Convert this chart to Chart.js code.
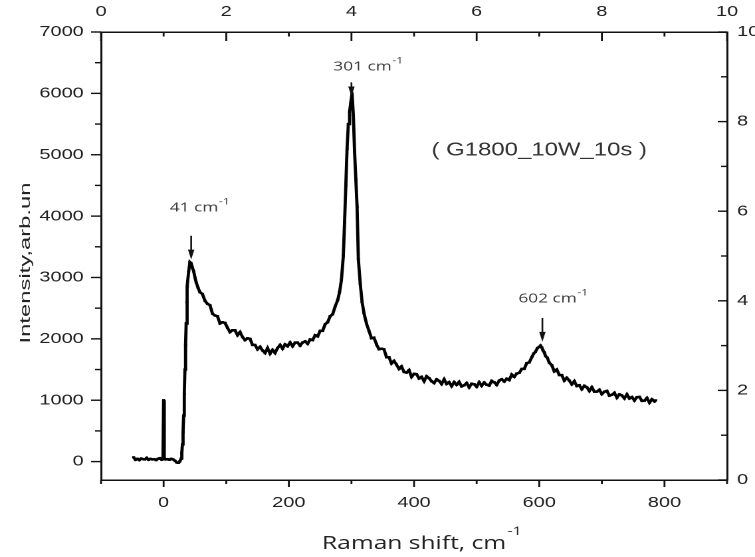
<!DOCTYPE html>
<html><head><meta charset="utf-8">
<script src="https://cdn.jsdelivr.net/npm/chart.js@4.4.1/dist/chart.umd.min.js"></script>
<style>
html,body{margin:0;padding:0;background:#fff;overflow:hidden;}
#wrap{width:755px;height:557px;overflow:hidden;position:relative;}
#c{display:block;transform-origin:0 0;transform:scaleX(1.3292);}
</style></head><body>
<div id="wrap"><canvas id="c" width="568" height="557"></canvas></div>
<script>
// Raman shift (cm-1) and intensity (arb. units)
const ramanShift = [
-48,-45,-42,-39,-36,-33,-30,-27,-24,-21,-18,-15,-12,-9,-6,-3,-1,0,1,3,6,9,12,15,18,21,24,26,28,
29,30,31,32,33,34,35,36,37,38,40,42,44,46,48,50,52,55,58,
62,66,70,74,78,82,86,90,94,98,102,106,110,114,118,122,126,130,134,138,142,146,150,154,158,162,166,170,174,178,182,186,190,194,198,202,206,210,214,218,222,226,230,234,238,242,246,250,254,258,262,266,270,274,278,281,284,
287,289,291,293,295,297,299,301,303,305,307,309,311,314,317,320,324,
328,332,336,340,344,348,352,356,360,364,368,372,376,380,384,388,392,396,400,404,408,412,416,420,424,428,432,436,440,444,448,452,456,460,464,468,472,476,480,484,488,492,496,500,504,508,512,516,520,524,528,532,536,540,544,548,552,556,560,564,568,572,576,580,584,588,591,594,597,600,602,604,606,608,610,613,616,
620,624,628,632,636,640,644,648,652,656,660,664,668,672,676,680,684,688,692,696,700,704,708,712,716,720,724,728,732,736,740,744,748,752,756,760,764,768,772,776,780,784,786
];
const intensity = [
70,30,45,25,50,40,35,60,30,45,35,40,25,45,55,30,40,1000,45,35,40,30,45,35,15,-15,-20,5,50,
140,280,480,750,1100,1500,1900,2250,2600,2850,3100,3250,3230,3160,3100,3000,2920,2830,2760,
2730,2620,2570,2550,2410,2380,2370,2250,2270,2260,2180,2110,2140,2140,2060,2110,2030,1980,2010,2000,1900,1900,1830,1870,1810,1770,1850,1760,1820,1770,1850,1900,1840,1910,1880,1940,1880,1940,1940,1890,1940,1960,1920,1990,1980,2060,2040,2130,2130,2240,2270,2370,2400,2530,2630,2760,2960,
3350,3900,4500,5100,5500,5700,5850,6000,5650,5050,4600,4150,3300,2900,2600,2420,2250,
2130,2010,2020,1910,1830,1840,1830,1700,1700,1600,1640,1580,1510,1550,1460,1450,1490,1380,1430,1425,1355,1380,1310,1390,1360,1310,1280,1340,1315,1265,1340,1265,1295,1230,1295,1250,1298,1225,1242,1280,1210,1270,1260,1220,1292,1235,1288,1252,1238,1315,1292,1250,1320,1342,1305,1350,1328,1418,1380,1435,1445,1510,1510,1605,1615,1700,1760,1790,1850,1870,1890,1860,1810,1780,1720,1690,1610,
1570,1470,1500,1410,1410,1320,1365,1320,1260,1310,1230,1245,1180,1235,1210,1150,1210,1140,1140,1170,1100,1140,1152,1075,1088,1120,1042,1095,1078,1030,1095,1028,1052,996,1050,1054,988,992,1036,960,1015,980,998
];

// axis ticks
const bottomTicks = [0, 200, 400, 600, 800];
const bottomMinor = [-100, 100, 300, 500, 700, 900];
const leftTicks = [0, 1000, 2000, 3000, 4000, 5000, 6000, 7000];
const leftMinor = [500, 1500, 2500, 3500, 4500, 5500, 6500];
const topTicks = [0, 2, 4, 6, 8, 10];
const topMinor = [1, 3, 5, 7, 9];
const rightTicks = [0, 2, 4, 6, 8, 10];
const rightMinor = [1, 3, 5, 7, 9];

// peak annotations
const peakNames = ['41 cm', '301 cm', '602 cm'];
const peakArrowX = [44, 300, 605];
const peakArrowFrom = [3680, 6180, 2340];
const peakArrowTo = [3290, 5950, 1950];
const peakTextX = [48.6, 317.7, 613.2];
const peakTextY = [4132, 6429, 2649];
const sampleName = '( G1800_10W_10s )';
const sampleX = 600, sampleY = 5070;

const xTitle = 'Raman shift, cm';
const yTitle = 'Intensity,arb.un';
const sup = '-1';

const S = 755 / 568;
const tickFont = { family: "'Liberation Sans', Arial, sans-serif", size: 15 };
const tickColor = '#222';

const decor = {
  id: 'decor',
  afterDraw(chart) {
    const ctx = chart.ctx;
    const sx = chart.scales.x, sy = chart.scales.y, sx2 = chart.scales.x2, sy2 = chart.scales.y2;
    const a = chart.chartArea;
    ctx.save();
    ctx.strokeStyle = '#111';
    ctx.lineWidth = 1.4;
    const seg = (x1, y1, x2, y2) => { ctx.beginPath(); ctx.moveTo(x1, y1); ctx.lineTo(x2, y2); ctx.stroke(); };
    bottomTicks.forEach(v => { const p = sx.getPixelForValue(v); seg(p, a.bottom, p, a.bottom + 7); });
    bottomMinor.forEach(v => { const p = sx.getPixelForValue(v); seg(p, a.bottom, p, a.bottom + 4); });
    leftTicks.forEach(v => { const p = sy.getPixelForValue(v); seg(a.left - 7.5, p, a.left, p); });
    leftMinor.forEach(v => { const p = sy.getPixelForValue(v); seg(a.left - 4.5, p, a.left, p); });
    topTicks.forEach(v => { const p = sx2.getPixelForValue(v); seg(p, a.top, p, a.top + 9); });
    topMinor.forEach(v => { const p = sx2.getPixelForValue(v); seg(p, a.top, p, a.top + 4.5); });
    rightTicks.forEach(v => { const p = sy2.getPixelForValue(v); seg(a.right - 7, p, a.right, p); });
    rightMinor.forEach(v => { const p = sy2.getPixelForValue(v); seg(a.right - 4.5, p, a.right, p); });

    // arrows
    ctx.fillStyle = '#111';
    ctx.lineWidth = 1.3;
    peakArrowX.forEach((v, i) => {
      const px = sx.getPixelForValue(v);
      const y0 = sy.getPixelForValue(peakArrowFrom[i]);
      const y1 = sy.getPixelForValue(peakArrowTo[i]);
      seg(px, y0, px, y1 - 8);
      ctx.beginPath();
      ctx.moveTo(px, y1);
      ctx.lineTo(px - 2.4, y1 - 10);
      ctx.lineTo(px + 2.4, y1 - 10);
      ctx.closePath();
      ctx.fill();
    });

    // peak labels
    ctx.fillStyle = '#3a3a3a';
    peakNames.forEach((t, i) => {
      const cx = sx.getPixelForValue(peakTextX[i]);
      const cy = sy.getPixelForValue(peakTextY[i]);
      ctx.font = "13px 'Open Sans', sans-serif";
      ctx.textBaseline = 'middle';
      ctx.textAlign = 'left';
      const w = ctx.measureText(t).width;
      ctx.fillText(t, cx - w / 2, cy);
      ctx.font = "9px 'Open Sans', sans-serif";
      ctx.fillText(sup, cx + w / 2 + 0.5, cy - 6);
    });

    // sample name
    ctx.font = "18px 'Liberation Sans', Arial, sans-serif";
    ctx.textAlign = 'center';
    ctx.textBaseline = 'middle';
    ctx.fillStyle = '#333';
    ctx.fillText(sampleName, sx.getPixelForValue(sampleX), sy.getPixelForValue(sampleY));

    // x title
    ctx.font = "18.5px 'Open Sans', sans-serif";
    ctx.textBaseline = 'alphabetic';
    ctx.textAlign = 'left';
    ctx.fillStyle = '#222';
    const cxT = (a.left + a.right) / 2;
    const wm = ctx.measureText(xTitle).width;
    ctx.fillText(xTitle, cxT - wm / 2, 549);
    ctx.font = "12px 'Open Sans', sans-serif";
    ctx.fillText(sup, cxT + wm / 2 + 1, 535);

    // y title (stretched along its length like the reference)
    ctx.font = "15px 'Liberation Sans', Arial, sans-serif";
    const wy = ctx.measureText(yTitle).width;
    ctx.translate(30 / S, 263);
    ctx.rotate(-Math.PI / 2);
    ctx.scale(161 / wy, 1 / S);
    ctx.textAlign = 'center';
    ctx.fillText(yTitle, 0, 0);
    ctx.restore();
  }
};

const lbl = v => String(v);
function axisBase(extra) {
  return Object.assign({
    type: 'linear',
    grid: { display: false, drawTicks: false },
    border: { display: true, color: '#111', width: 1.5 },
  }, extra);
}

new Chart(document.getElementById('c'), {
  type: 'scatter',
  data: {
    datasets: [{
      data: ramanShift.map((v, i) => ({ x: v, y: intensity[i] })),
      showLine: true,
      borderColor: '#000',
      borderWidth: 2.4,
      pointRadius: 1.6,
      pointStyle: 'rect',
      pointBackgroundColor: '#000',
      pointBorderWidth: 0,
      tension: 0,
      xAxisID: 'x',
      yAxisID: 'y'
    }]
  },
  options: {
    responsive: false,
    animation: false,
    devicePixelRatio: 2,
    events: [],
    layout: { padding: 0 },
    plugins: { legend: { display: false }, tooltip: { enabled: false } },
    scales: {
      x: axisBase({
        position: 'bottom', min: -100, max: 900,
        ticks: { autoSkip: false, padding: 14, font: tickFont, color: tickColor, callback: lbl, maxRotation: 0 },
        afterBuildTicks: s => { s.ticks = bottomTicks.map(v => ({ value: v })); },
        afterFit: s => { s.height = 77; }
      }),
      x2: axisBase({
        position: 'top', min: 0, max: 10,
        ticks: { autoSkip: false, padding: 11, font: tickFont, color: tickColor, callback: lbl, maxRotation: 0 },
        afterBuildTicks: s => { s.ticks = topTicks.map(v => ({ value: v })); },
        afterFit: s => { s.height = 32; }
      }),
      y: axisBase({
        position: 'left', min: -300, max: 7000,
        ticks: { autoSkip: false, padding: 13, font: tickFont, color: tickColor, callback: lbl },
        afterBuildTicks: s => { s.ticks = leftTicks.map(v => ({ value: v })); },
        afterFit: s => { s.width = 76; }
      }),
      y2: axisBase({
        position: 'right', min: 0, max: 10,
        ticks: { autoSkip: false, padding: 7.5, font: tickFont, color: tickColor, callback: lbl },
        afterBuildTicks: s => { s.ticks = rightTicks.map(v => ({ value: v })); },
        afterFit: s => { s.width = 21; }
      })
    }
  },
  plugins: [decor]
});
</script>
</body></html>
